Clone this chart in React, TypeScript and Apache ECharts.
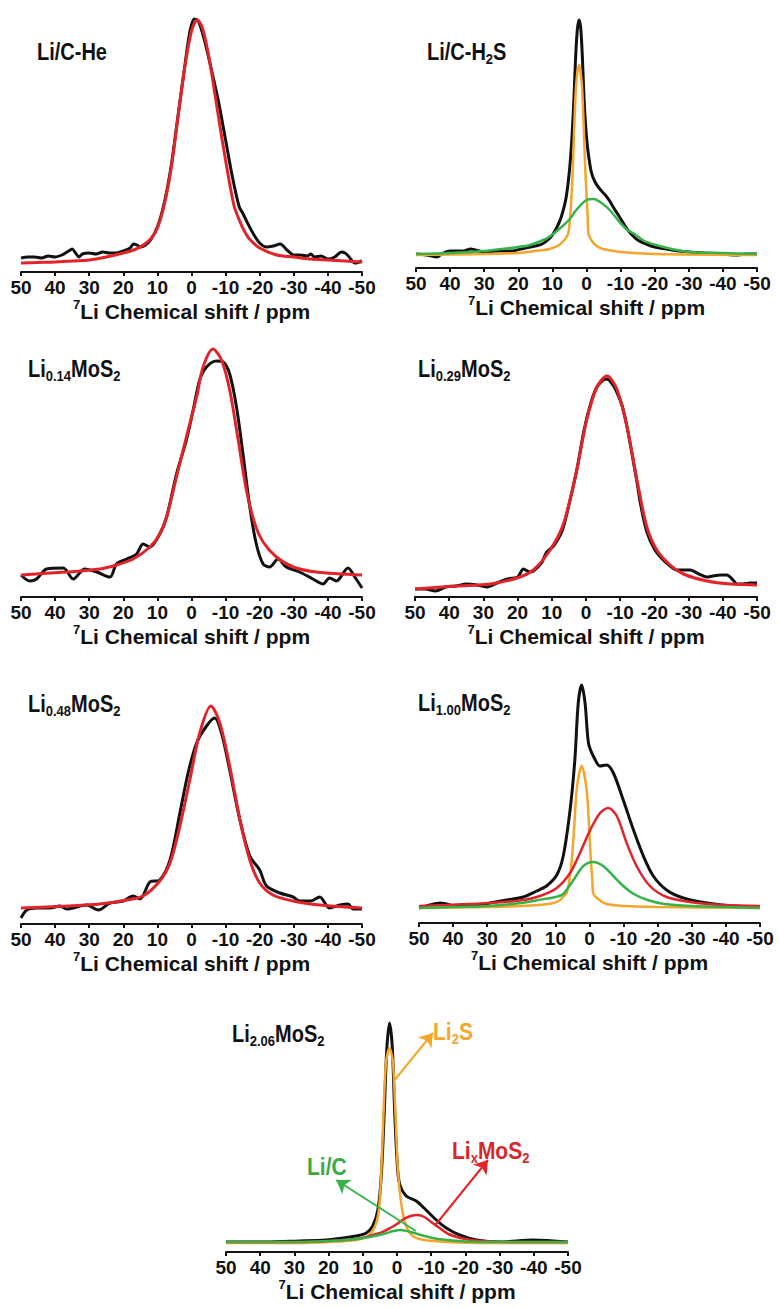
import React, { useEffect, useRef } from "react";
import * as echarts from "echarts";

type Pt = [number, number];

// ---------- panel names ----------
const panelLabels = [
  "{m|Li/C-He}",
  "{m|Li/C-H}{s|2}{m|S}",
  "{m|Li}{s|0.14}{m|MoS}{s|2}",
  "{m|Li}{s|0.29}{m|MoS}{s|2}",
  "{m|Li}{s|0.48}{m|MoS}{s|2}",
  "{m|Li}{s|1.00}{m|MoS}{s|2}",
  "{m|Li}{s|2.06}{m|MoS}{s|2}",
];
const componentLabels = {
  li2s: "{m|Li}{s|2}{m|S}",
  lic: "{m|Li/C}",
  lix: "{m|Li}{s|x}{m|MoS}{s|2}",
};
const axisTitle = "{sup|7}{main|Li Chemical shift / ppm}";

// ---------- x axis (ppm) ----------
const X_MIN = -50;
const X_MAX = 50;
const X_STEP = 10;

// ---------- Li/C-He ----------
const heExp: Pt[] = [
  [50, 14], [48, 15], [46, 15], [44, 14], [42, 16], [40, 15], [38, 17], [36, 21], [35, 23], [34, 19],
  [33, 15], [32, 18], [30, 19], [28, 18], [26, 20], [24, 19], [22, 19], [20, 21], [18, 24], [17, 28],
  [16, 27], [15, 25], [13.5, 27], [12, 32], [10, 45], [8, 69], [6, 105], [4, 155], [2, 205], [0.5, 240],
  [-0.8, 253], [-2, 251], [-4, 229], [-6, 200], [-8, 169], [-10, 132], [-12, 95], [-14, 65], [-15, 59],
  [-16, 52], [-18, 39], [-20, 29], [-22, 25], [-24, 26], [-26, 28], [-28, 22], [-30, 17], [-32, 17],
  [-34, 16], [-35, 18], [-36, 15], [-38, 16], [-40, 13], [-42, 15], [-44, 20], [-45, 19], [-46, 16],
  [-48, 9], [-50, 11],
];
const heFit: Pt[] = [
  [50, 9], [45, 9.5], [40, 10], [35, 11], [30, 12], [25, 15], [20, 19], [17, 22], [15, 25], [12, 33],
  [10, 44], [8, 67], [6, 103], [4, 154], [2, 204], [0, 241], [-1.7, 252], [-3.2, 244], [-5, 217],
  [-7, 175], [-9, 132], [-11, 92], [-12.5, 66], [-14, 52], [-15.5, 41], [-17, 33], [-20, 24], [-25, 17],
  [-30, 15], [-35, 13], [-40, 12], [-45, 11], [-50, 10],
];

// ---------- Li/C-H2S ----------
const h2sExp: Pt[] = [
  [50, 14], [47, 13], [44, 11], [42, 15], [40, 17], [36, 17], [34, 19], [30, 16], [26, 17], [22, 17],
  [18, 20], [15, 22], [13, 24], [11, 29], [9.8, 34], [8.5, 42], [7.4, 51], [6, 70], [4.9, 101], [4.2, 135],
  [3.7, 168], [3.2, 210], [2.7, 238], [2.2, 248], [1.7, 240], [1.2, 210], [0.7, 168], [0.2, 140],
  [-0.4, 118], [-1.4, 96], [-2.5, 86], [-3.9, 79], [-5.5, 73], [-6.8, 67], [-8, 60], [-9.7, 51],
  [-11.5, 41], [-13.1, 34], [-15, 28], [-17.5, 24], [-20, 21], [-23.4, 19], [-27, 17], [-30, 16],
  [-35, 15], [-40, 14], [-44, 13], [-47, 14], [-50, 14],
];
const h2sLi2s: Pt[] = [
  [50, 13], [30, 14], [20, 15], [15, 17], [10.8, 19], [8, 23], [6.5, 28], [5.4, 34], [4.7, 55], [4, 101],
  [3.5, 150], [3, 185], [2.2, 203], [1.4, 185], [0.9, 150], [0.4, 101], [-0.3, 55], [-0.6, 34],
  [-1.8, 26], [-3, 22], [-4.8, 19], [-10, 16], [-20, 14], [-50, 13],
];
const h2sLiC: Pt[] = [
  [50, 14], [40, 15], [30, 17], [20, 21], [16.6, 23], [12, 29], [9.8, 34], [7, 42], [4.9, 49], [3, 58],
  [0, 68], [-2.1, 69], [-4.8, 64], [-6.8, 58], [-9.7, 46], [-12, 38], [-14.1, 34], [-17, 27],
  [-20.4, 23], [-25, 19], [-30, 16], [-40, 15], [-50, 14],
];

// ---------- Li0.14MoS2 ----------
const x014Exp: Pt[] = [
  [50, 22], [47.4, 16], [45.4, 18], [42.5, 28], [37.6, 29], [34.7, 18], [31.3, 28], [27.8, 25],
  [23.9, 20], [22, 33], [19, 38], [16.1, 43], [14.2, 53], [12.2, 50], [9.3, 63], [7.3, 80], [4.4, 123],
  [1.5, 157], [-0.5, 187], [-2.4, 217], [-4.4, 230], [-7.3, 236], [-9.3, 235], [-11.2, 223],
  [-13.2, 190], [-15.1, 143], [-17.1, 90], [-19, 53], [-21, 33], [-22.9, 30], [-25.4, 38], [-27.8, 30],
  [-31.7, 25], [-35.6, 18], [-38.6, 13], [-40.5, 19], [-42.5, 16], [-45.9, 29], [-47.9, 20], [-50, 9],
];
const x014Fit: Pt[] = [
  [50, 22], [36.6, 25], [26.9, 28], [22, 32], [17.1, 38], [12.2, 50], [9.3, 63], [7.3, 80], [4.4, 120],
  [1.5, 160], [-1.5, 200], [-3.4, 230], [-6.3, 248], [-8.8, 237], [-11.2, 207], [-13.7, 157],
  [-16.1, 107], [-18.6, 73], [-21, 55], [-24.9, 40], [-29.8, 30], [-36.6, 25], [-50, 22],
];

// ---------- Li0.29MoS2 ----------
const x029Exp: Pt[] = [
  [50, 8], [47, 8], [44, 6], [41, 10], [38, 11], [35, 13], [32, 12], [29, 10], [26, 14], [23, 18],
  [20, 20], [18.3, 28], [16.5, 25], [15.4, 26], [13, 34], [11.5, 45], [9.5, 51], [7, 66], [5, 92],
  [2.7, 127], [0.5, 168], [-1.5, 195], [-3.2, 210], [-5, 217], [-6.1, 218], [-7.5, 214], [-9, 205],
  [-10.5, 192], [-12, 170], [-14.9, 115], [-16, 92], [-17.8, 65], [-20, 48], [-22, 39], [-24.6, 31],
  [-26.6, 27], [-28.5, 27], [-30.5, 27], [-33, 23], [-35.4, 20], [-37, 21], [-39.3, 22], [-41.2, 22],
  [-43, 17], [-44.1, 13], [-46, 13], [-48, 14], [-50, 14],
];
const x029Fit: Pt[] = [
  [50, 8], [37.8, 11], [28, 13], [20.2, 19], [15.4, 27], [10.5, 47], [6.6, 73], [2.7, 127], [-0.2, 177],
  [-3.2, 210], [-6.1, 221], [-9, 208], [-12, 170], [-14.9, 117], [-17.8, 70], [-20.7, 47], [-24.6, 32],
  [-28.5, 23], [-35.4, 16], [-42.2, 13], [-50, 12],
];

// ---------- Li0.48MoS2 ----------
const x048Exp: Pt[] = [
  [50, 6], [48.3, 14], [45.4, 16], [41.5, 16], [38.6, 18], [36.6, 15], [30.8, 19], [27.3, 14], [23.9, 21],
  [20, 23], [17.1, 28], [15.1, 25], [12.2, 42], [9.3, 44], [6.3, 64], [3.4, 111], [1, 151], [-1.5, 181],
  [-4.4, 198], [-6.8, 206], [-8.8, 191], [-11.2, 154], [-14.2, 104], [-17.1, 68], [-20, 54], [-22, 38],
  [-25.9, 31], [-29.8, 27], [-31.7, 23], [-35, 23], [-37.6, 27], [-40.5, 16], [-43.5, 19], [-45.9, 20],
  [-47.4, 15], [-50, 15],
];
const x048Fit: Pt[] = [
  [50, 16], [36.6, 18], [26.9, 20], [19, 24], [14.2, 28], [9.3, 43], [6.3, 61], [3.4, 98], [0.5, 144],
  [-2.4, 191], [-5.7, 218], [-8.3, 201], [-11.2, 158], [-14.2, 104], [-17.1, 64], [-20, 41], [-23.9, 29],
  [-29.8, 23], [-37.6, 19], [-50, 16],
];

// ---------- Li1.00MoS2 ----------
const x100Exp: Pt[] = [
  [50, 15], [46.8, 18], [43.8, 20], [39, 17], [34.1, 17], [29.2, 20], [24.3, 23], [19.4, 26], [15.5, 32],
  [12.6, 37], [9.6, 48], [7.7, 67], [5.7, 113], [4.3, 163], [3.3, 220], [2.3, 238], [1.3, 220], [0.3, 180],
  [-1.1, 167], [-3.1, 157], [-5, 158], [-7, 150], [-9.9, 123], [-12.9, 93], [-15.8, 67], [-18.7, 47],
  [-22.6, 33], [-27.5, 25], [-34.4, 20], [-42.2, 17], [-50, 16],
];
const x100Li2s: Pt[] = [
  [50, 15], [30, 16], [20, 17], [12, 19], [9, 22], [7.5, 27], [6.7, 30], [5.8, 45], [5.2, 63], [4.5, 95],
  [3.7, 135], [2.3, 157], [0.9, 135], [0.1, 95], [-0.4, 63], [-0.8, 45], [-1.1, 30], [-2.5, 24], [-5, 19],
  [-10, 17], [-20, 16], [-50, 15],
];
const x100LixMoS2: Pt[] = [
  [50, 17], [29.2, 20], [19.4, 23], [14.5, 27], [9.6, 35], [5.7, 50], [2.8, 70], [-0.2, 93], [-3.1, 110],
  [-5.5, 115], [-8, 107], [-10.9, 80], [-13.8, 57], [-17.7, 37], [-22.6, 26], [-29.5, 21], [-39.2, 18],
  [-50, 17],
];
const x100LiC: Pt[] = [
  [50, 15], [40, 16], [30, 17], [20, 20], [15, 23], [10, 26], [7.7, 29], [4.7, 43], [1.8, 57], [-1.1, 61],
  [-4, 57], [-7, 47], [-9.9, 37], [-13, 29], [-17, 23], [-22, 19], [-30, 17], [-40, 16], [-50, 15],
];

// ---------- Li2.06MoS2 ----------
const x206Exp: Pt[] = [
  [50, 10], [38.3, 10], [28.5, 11], [20.7, 12], [15.9, 14], [12, 16], [9, 19], [7.1, 26], [5.6, 42],
  [4.6, 76], [3.7, 142], [3, 202], [2.2, 229], [1.4, 206], [0.7, 142], [0, 92], [-0.7, 69], [-2.7, 56],
  [-5.6, 51], [-8.5, 42], [-11.5, 32], [-14.4, 24], [-18.3, 17], [-23.2, 12], [-30, 10], [-39.8, 12],
  [-50, 10],
];
const x206Li2s: Pt[] = [
  [50, 9], [30, 9], [20, 10], [12, 12], [8.5, 16], [6.5, 25], [5.3, 42], [4.6, 80], [3.9, 142], [3.2, 190],
  [2.2, 204], [1.2, 190], [0.5, 142], [-0.3, 80], [-1.5, 42], [-2.8, 25], [-4.6, 16], [-8, 12], [-15, 10],
  [-25, 9], [-50, 9],
];
const x206LixMoS2: Pt[] = [
  [50, 10], [30, 10], [20, 11], [12, 13], [8, 16], [5, 19], [2, 24], [0, 28], [-2, 33], [-4, 36],
  [-6.1, 37], [-8, 35], [-10, 30], [-12, 25], [-15, 18], [-20, 13], [-25, 11], [-35, 10], [-50, 10],
];
const x206LiC: Pt[] = [
  [50, 10], [30, 10], [20, 11], [12, 13], [8, 15], [4, 18], [1, 21], [-1, 22], [-4, 20], [-8, 16],
  [-12, 13], [-18, 11], [-25, 10], [-50, 10],
];

// annotation arrows (ppm, intensity): from -> to
const li2sArrow: Pt[] = [[0.7, 172], [-10.5, 219]];
const licArrow: Pt[] = [[-5.5, 21], [17.8, 72]];
const lixArrow: Pt[] = [[-11, 26], [-26.6, 92]];

// ---------- styles ----------
const BLACK = "#111111";
const RED = "#E3232A";
const ORANGE = "#F5A52B";
const GREEN = "#35B34A";
const FONT = '"Liberation Sans", Arial, Helvetica, sans-serif';
const Y_MAX = 260;

type S = { data: Pt[]; color: string; width: number; arrow?: Pt[] };
type Panel = { axisY: number; left: number; width: number; series: S[] };

const panels: Panel[] = [
  { axisY: 272, left: 21, width: 341, series: [
    { data: heExp, color: BLACK, width: 3 }, { data: heFit, color: RED, width: 3 }] },
  { axisY: 268, left: 416, width: 341, series: [
    { data: h2sExp, color: BLACK, width: 3 }, { data: h2sLi2s, color: ORANGE, width: 2.5 },
    { data: h2sLiC, color: GREEN, width: 2.5 }] },
  { axisY: 597, left: 21, width: 341, series: [
    { data: x014Exp, color: BLACK, width: 3 }, { data: x014Fit, color: RED, width: 3 }] },
  { axisY: 597, left: 415, width: 342, series: [
    { data: x029Exp, color: BLACK, width: 3 }, { data: x029Fit, color: RED, width: 3 }] },
  { axisY: 924, left: 21, width: 341, series: [
    { data: x048Exp, color: BLACK, width: 3 }, { data: x048Fit, color: RED, width: 3 }] },
  { axisY: 923, left: 419, width: 341, series: [
    { data: x100Exp, color: BLACK, width: 3 }, { data: x100Li2s, color: ORANGE, width: 2.5 },
    { data: x100LixMoS2, color: RED, width: 2.5 }, { data: x100LiC, color: GREEN, width: 2.5 }] },
  { axisY: 1252, left: 226, width: 342, series: [
    { data: x206Exp, color: BLACK, width: 3 }, { data: x206Li2s, color: ORANGE, width: 2.5, arrow: li2sArrow },
    { data: x206LixMoS2, color: RED, width: 2.5, arrow: lixArrow }, { data: x206LiC, color: GREEN, width: 2.5, arrow: licArrow }] },
];

const labelPos: [number, number][] = [
  [37, 52], [427, 52], [28, 369], [418, 369], [28, 704], [418, 703], [232, 1034],
];

function richFor(color: string, size: number) {
  return {
    m: { fontSize: size, fontWeight: "bold", fontFamily: FONT, lineHeight: 24, fill: color },
    s: { fontSize: 13, fontWeight: "bold", fontFamily: FONT, lineHeight: 8, verticalAlign: "bottom", fill: color },
  };
}

function textEl(text: string, x: number, y: number, color: string, size: number) {
  return {
    type: "text",
    x,
    y,
    scaleY: 1.15,
    silent: true,
    style: { text, rich: richFor(color, size), fill: color, align: "left", verticalAlign: "middle" },
  };
}

export default function App() {
  const ref = useRef<HTMLDivElement>(null);

  useEffect(() => {
    if (!ref.current) return;
    const chart = echarts.init(ref.current, undefined, { renderer: "svg" });

    const grid = panels.map((p) => ({ left: p.left, top: p.axisY - Y_MAX, width: p.width, height: Y_MAX }));
    const xAxis = panels.map((_, i) => ({
      type: "value",
      gridIndex: i,
      min: X_MIN,
      max: X_MAX,
      interval: X_STEP,
      inverse: true,
      axisLine: { show: true, onZero: false, lineStyle: { color: BLACK, width: 2 } },
      axisTick: { show: true, inside: false, length: 4, lineStyle: { color: BLACK, width: 2 } },
      axisLabel: { margin: 6, fontSize: 19, fontWeight: "bold", color: BLACK, fontFamily: FONT },
      splitLine: { show: false },
      name: axisTitle,
      nameLocation: "middle",
      nameGap: 24,
      nameTextStyle: {
        rich: {
          sup: { fontSize: 13, fontWeight: "bold", fontFamily: FONT, color: BLACK, lineHeight: 12, verticalAlign: "top" },
          main: { fontSize: 21, fontWeight: "bold", fontFamily: FONT, color: BLACK, lineHeight: 28 },
        },
      },
    }));
    const yAxis = panels.map((_, i) => ({ type: "value", gridIndex: i, min: 0, max: Y_MAX, show: false }));

    const series: any[] = [];
    panels.forEach((p, i) => {
      p.series.forEach((s, k) => {
        const item: any = {
          type: "line",
          xAxisIndex: i,
          yAxisIndex: i,
          data: s.data,
          showSymbol: false,
          symbol: "none",
          smooth: 0.3,
          silent: true,
          z: 2 + k,
          lineStyle: { color: s.color, width: s.width },
          itemStyle: { color: s.color },
        };
        if (s.arrow) {
          item.markLine = {
            silent: true,
            symbol: ["none", "arrow"],
            symbolSize: 13,
            label: { show: false },
            lineStyle: { color: s.color, width: 2, type: "solid" },
            data: [[{ coord: s.arrow[0] }, { coord: s.arrow[1] }]],
          };
        }
        series.push(item);
      });
    });

    const graphic: any[] = panelLabels.map((t, i) => textEl(t, labelPos[i][0], labelPos[i][1], BLACK, 20));
    graphic.push(textEl(componentLabels.li2s, 433, 1032, ORANGE, 21));
    graphic.push(textEl(componentLabels.lic, 307, 1167, "#3AAA45", 21));
    graphic.push(textEl(componentLabels.lix, 452, 1151, "#D7262C", 21));

    chart.setOption({
      animation: false,
      backgroundColor: "#ffffff",
      grid,
      xAxis,
      yAxis,
      series,
      graphic,
    } as any);

    return () => chart.dispose();
  }, []);

  return (
    <div
      ref={ref}
      style={{ position: "absolute", left: 0, top: 0, width: 779, height: 1307, background: "#fff" }}
    />
  );
}
